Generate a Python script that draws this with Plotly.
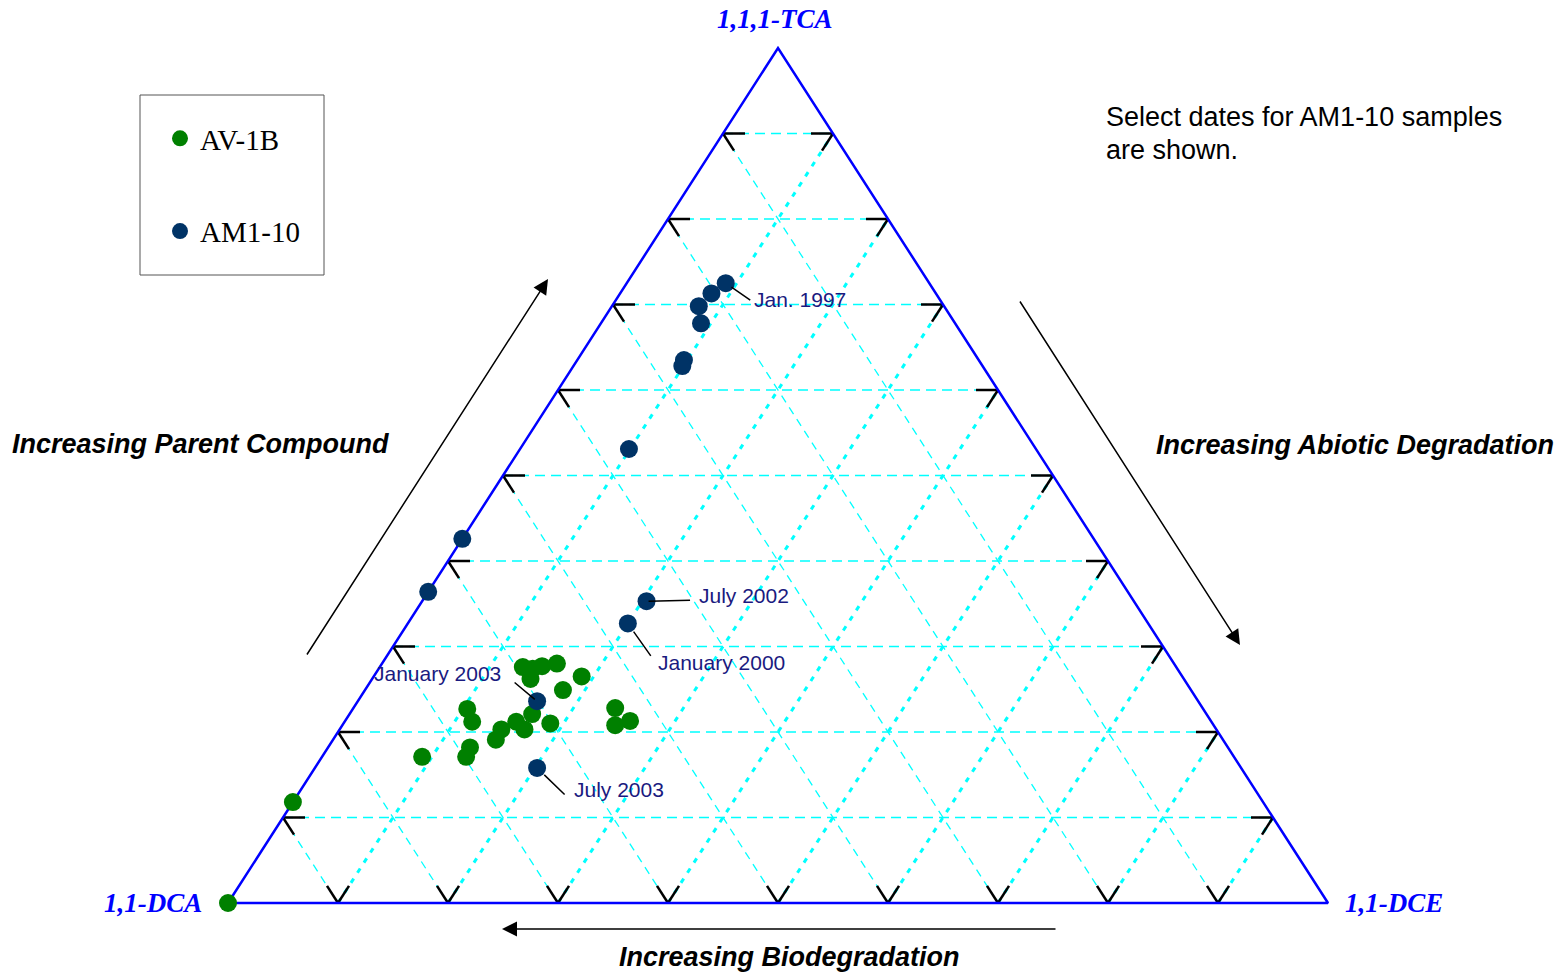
import plotly.graph_objects as go

# Sample compositions as percent of total (1,1,1-TCA, 1,1-DCE); 1,1-DCA is the remainder
av1b_tca = [27.6, 27.4, 27.7, 28.0, 26.2, 24.9, 26.5, 22.7, 21.2, 22.1, 21.2, 20.3,
            20.3, 19.1, 21.0, 22.8, 20.8, 21.3, 18.2, 17.1, 17.1, 11.8, 0.0]
av1b_dce = [13.0, 14.0, 14.7, 15.9, 14.4, 18.0, 18.9, 10.4, 11.6, 16.6, 15.6, 16.8,
            14.7, 14.8, 18.8, 23.8, 24.8, 25.9, 12.9, 13.1, 9.1, 0.0, 0.0]

am110_tca = [72.5, 71.3, 69.8, 67.8, 63.5, 62.8, 53.1, 42.6, 36.4, 35.3, 32.7, 23.6, 15.8]
am110_dce = [9.0, 8.3, 7.9, 9.1, 9.7, 9.9, 9.9, 0.0, 0.0, 20.4, 20.0, 16.3, 20.2]

# Labelled AM1-10 samples: (index into AM1-10 arrays, label)
date_labels = [(0, "Jan. 1997"), (9, "July 2002"), (10, "January 2000"),
               (11, "January 2003"), (12, "July 2003")]

grid_levels = [10, 20, 30, 40, 50, 60, 70, 80, 90]

W, H = 1566, 975
# plot-area geometry of the triangle (pixels)
X0, XW = 228.0, 1100.0
Y0, YH = 903.0, 855.0


def to_xy(tca, dce):
    """Ternary percentages -> cartesian (x along base, y = TCA fraction)."""
    t = tca / 100.0
    e = dce / 100.0
    return e + t / 2.0, t


def seg_lines(pairs):
    xs, ys = [], []
    for (a, b) in pairs:
        xa, ya = to_xy(*a)
        xb, yb = to_xy(*b)
        xs += [xa, xb, None]
        ys += [ya, yb, None]
    return xs, ys


fig = go.Figure()

CYAN = "#00FFFF"
# horizontal lines: constant TCA
h_pairs = [((k, 0.0), (k, 100.0 - k)) for k in grid_levels]
# lines of constant DCA (parallel to right edge)
d_pairs = [((100.0 - k, 0.0), (0.0, 100.0 - k)) for k in grid_levels]
# lines of constant DCE (parallel to left edge)
e_pairs = [((0.0, k), (100.0 - k, k)) for k in grid_levels]

for pairs, width, dash in [(h_pairs, 1.3, "10px,6px"),
                           (d_pairs, 1.3, "8px,6px"),
                           (e_pairs, 3, "5px,7px")]:
    xs, ys = seg_lines(pairs)
    fig.add_trace(go.Scatter(x=xs, y=ys, mode="lines", hoverinfo="skip",
                             line=dict(color=CYAN, width=width, dash=dash),
                             showlegend=False))

# arrow-shaped tick marks at each grid level on the three edges
TL = 2.0
tick_pairs = []
for k in grid_levels:
    # left edge (DCE = 0)
    tick_pairs.append(((k, 0.0), (k, TL)))
    tick_pairs.append(((k, 0.0), (k - TL, TL)))
    # right edge (DCA = 0)
    tick_pairs.append(((k, 100.0 - k), (k, 100.0 - k - TL)))
    tick_pairs.append(((k, 100.0 - k), (k - TL, 100.0 - k)))
    # bottom edge (TCA = 0)
    tick_pairs.append(((0.0, k), (TL, k - TL)))
    tick_pairs.append(((0.0, k), (TL, k)))
xs, ys = seg_lines(tick_pairs)
fig.add_trace(go.Scatter(x=xs, y=ys, mode="lines", hoverinfo="skip",
                         line=dict(color="black", width=2.5), showlegend=False))

# triangle outline
tri = [(0.0, 0.0), (0.0, 100.0), (100.0, 0.0), (0.0, 0.0)]
tx = [to_xy(*p)[0] for p in tri]
ty = [to_xy(*p)[1] for p in tri]
fig.add_trace(go.Scatter(x=tx, y=ty, mode="lines", hoverinfo="skip",
                         line=dict(color="#0000FF", width=2.5), showlegend=False))

# sample points
gx = [to_xy(a, b)[0] for a, b in zip(av1b_tca, av1b_dce)]
gy = [to_xy(a, b)[1] for a, b in zip(av1b_tca, av1b_dce)]
nx = [to_xy(a, b)[0] for a, b in zip(am110_tca, am110_dce)]
ny = [to_xy(a, b)[1] for a, b in zip(am110_tca, am110_dce)]

fig.add_trace(go.Scatter(x=gx, y=gy, mode="markers", name="AV-1B",
                         legendgroup="g1",
                         marker=dict(color="#008000", size=18)))
fig.add_trace(go.Scatter(x=nx, y=ny, mode="markers", name="AM1-10",
                         legendgroup="g2",
                         marker=dict(color="#003366", size=18)))

LBL = "#1A1A80"
# leader line tail offsets (px) and standoffs, label offsets (px)
leader = {0: (26, 18, 7), 9: (45, -1, 2), 10: (24, 34, 10), 11: (-24, -20, 3), 12: (29, 28, 10)}
label_pos = {0: (26, 16, "left"), 9: (50, -6, "left"), 10: (28, 39, "left"),
             11: (-34, -28, "right"), 12: (35, 22, "left")}
for idx, txt in date_labels:
    ax, ay, so = leader[idx]
    fig.add_annotation(x=nx[idx], y=ny[idx], ax=ax, ay=ay, text="", showarrow=True,
                       arrowhead=0, arrowwidth=1.5, arrowcolor="black", standoff=so)
    dx, dy, anc = label_pos[idx]
    fig.add_annotation(x=nx[idx], y=ny[idx], text=txt, showarrow=False,
                       xanchor=anc, yanchor="middle", xshift=dx, yshift=-dy,
                       font=dict(family="Liberation Sans, Arial", size=21, color=LBL))

# vertex labels
vfont = dict(family="Liberation Serif, Times New Roman", size=27, color="#0000FF")
ax_, ay_ = to_xy(100.0, 0.0)
fig.add_annotation(x=ax_, y=ay_, text="<b><i>1,1,1-TCA</i></b>", showarrow=False,
                   yanchor="bottom", yshift=12, xshift=-3, font=vfont)
bx_, by_ = to_xy(0.0, 0.0)
fig.add_annotation(x=bx_, y=by_, text="<b><i>1,1-DCA</i></b>", showarrow=False,
                   xanchor="right", yanchor="middle", xshift=-24, font=vfont)
cx_, cy_ = to_xy(0.0, 100.0)
fig.add_annotation(x=cx_, y=cy_, text="<b><i>1,1-DCE</i></b>", showarrow=False,
                   xanchor="left", yanchor="middle", xshift=15, font=vfont)

# trend arrows and captions
tfont = dict(family="Liberation Sans, Arial", size=27, color="black")
arrows = [(548, 279, -242, 377), (1240, 645, -221, -345), (502, 929, 555, 0)]
for hx, hy, dax, day in arrows:
    fig.add_annotation(xref="paper", yref="paper", x=hx / W, y=1 - hy / H,
                       ax=dax, ay=day, text="", showarrow=True, arrowhead=2,
                       arrowsize=2, arrowwidth=1.5, arrowcolor="black")
captions = [(200, 444, "Increasing Parent Compound"),
            (1355, 445, "Increasing Abiotic Degradation"),
            (789, 957, "Increasing Biodegradation")]
for cx, cy, txt in captions:
    fig.add_annotation(xref="paper", yref="paper", x=cx / W, y=1 - cy / H,
                       text="<b><i>" + txt + "</i></b>", showarrow=False,
                       xanchor="center", yanchor="middle", font=tfont)

note_font = dict(family="Liberation Sans, Arial", size=27, color="black")
for ly, line in [(117, "Select dates for AM1-10 samples"), (150, "are shown.")]:
    fig.add_annotation(xref="paper", yref="paper", x=1104 / W, y=1 - ly / H,
                       text=line, showarrow=False, xanchor="left", yanchor="middle",
                       font=note_font)

# legend frame
fig.add_shape(type="rect", xref="paper", yref="paper",
              x0=140 / W, x1=324 / W, y0=1 - 275 / H, y1=1 - 95 / H,
              line=dict(color="#555555", width=1), fillcolor="rgba(0,0,0,0)")

fig.update_layout(
    width=W, height=H,
    margin=dict(l=0, r=0, t=0, b=0),
    paper_bgcolor="white", plot_bgcolor="white",
    xaxis=dict(range=[-X0 / XW, (W - X0) / XW], visible=False, fixedrange=True),
    yaxis=dict(range=[(Y0 - H) / YH, Y0 / YH], visible=False, fixedrange=True),
    legend=dict(x=160 / W, y=1 - 113 / H, xanchor="left", yanchor="top",
                bgcolor="rgba(0,0,0,0)", borderwidth=0, tracegroupgap=52,
                font=dict(family="Liberation Serif, Times New Roman", size=29,
                          color="black")),
    showlegend=True,
)

fig.write_html("out.html")
